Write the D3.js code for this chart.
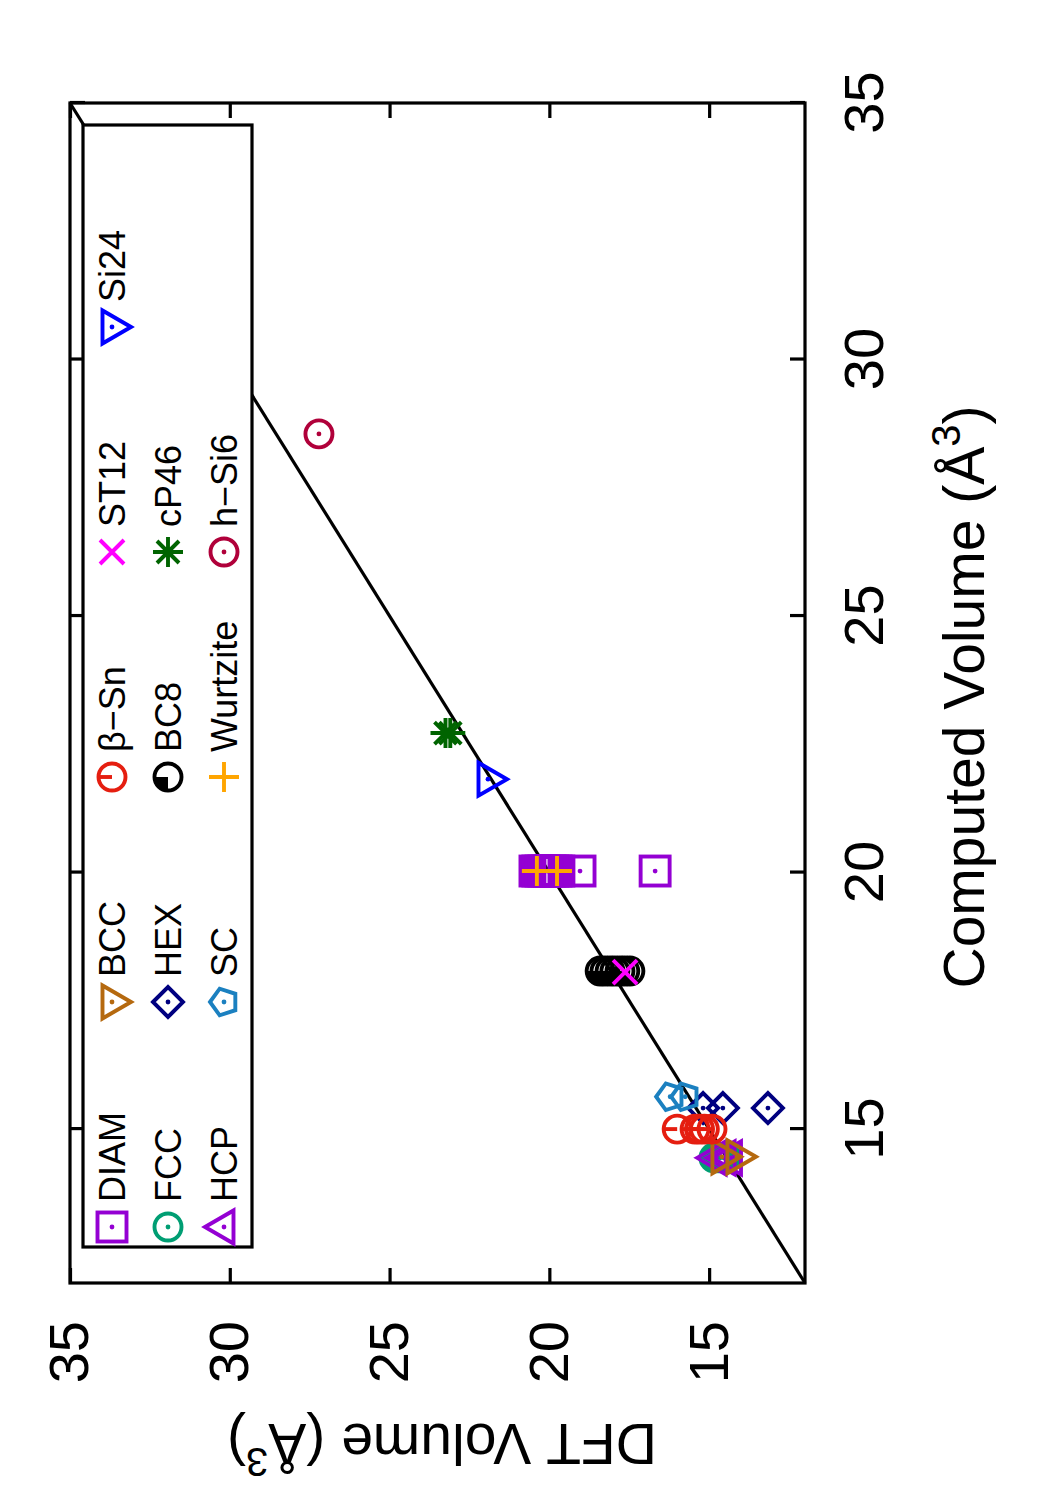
<!DOCTYPE html>
<html><head><meta charset="utf-8">
<script src="https://cdn.jsdelivr.net/npm/d3@7"></script>
<style>body{margin:0;background:#fff}</style>
</head><body>
<svg id="c" width="1050" height="1500" xmlns="http://www.w3.org/2000/svg"></svg>
<script>
// ---- data ----
const xTicks = [15, 20, 25, 30, 35];
const yTicks = [15, 20, 25, 30, 35];
const names = ["DIAM", "FCC", "HCP", "BCC", "HEX", "SC", "β−Sn", "BC8", "Wurtzite", "ST12", "cP46", "h−Si6", "Si24"];
// computed volume (x) and DFT volume (y) per structure
const xDIAM = [20.03, 20.03, 20.03, 20.03, 20.03, 20.03, 20.03, 20.03, 20.03, 20.03, 20.03];
const yDIAM = [20.45, 20.36, 20.26, 20.17, 20.07, 19.98, 19.89, 19.79, 19.70, 19.04, 16.69];
const xFCC = [14.44, 14.44, 14.44, 14.44, 14.44];
const yFCC = [14.85, 14.75, 14.65, 14.55, 14.45];
const xHCP = [14.44, 14.44, 14.44];
const yHCP = [14.78, 14.50, 14.30];
const xBCC = [14.46, 14.46];
const yBCC = [14.60, 14.13];
const xHEX = [15.41, 15.41, 15.41];
const yHEX = [15.19, 14.57, 13.16];
const xSC = [15.63, 15.63];
const ySC = [16.22, 15.75];
const xBSN = [15.00, 15.00, 15.00, 15.00, 15.00];
const yBSN = [16.00, 15.44, 15.30, 15.15, 14.91];
const xBC8 = [18.08, 18.08, 18.08, 18.08, 18.08, 18.08, 18.08];
const yBC8 = [18.41, 18.26, 18.10, 17.95, 17.79, 17.64, 17.48];
const xWURTZ = [20.03, 20.03];
const yWURTZ = [20.39, 19.76];
const xST12 = [18.06];
const yST12 = [17.63];
const xCP46 = [22.72, 22.72];
const yCP46 = [23.25, 23.10];
const xHSI6 = [28.55];
const yHSI6 = [27.21];
const xSI24 = [21.82];
const ySI24 = [21.92];

const xs = [xDIAM, xFCC, xHCP, xBCC, xHEX, xSC, xBSN, xBC8, xWURTZ, xST12, xCP46, xHSI6, xSI24];
const ys = [yDIAM, yFCC, yHCP, yBCC, yHEX, ySC, yBSN, yBC8, yWURTZ, yST12, yCP46, yHSI6, ySI24];

// ---- styles ----
const colors = ["#9400D3", "#009E73", "#9400D3", "#B5690F", "#000080", "#1B80C0", "#E51E10", "#000000", "#FFA500", "#FF00FF", "#006400", "#B0003A", "#0000FF"];
const shapes = ["box", "circle", "triUp", "triDown", "diamond", "pentagon", "circleBar", "circleQuarter", "plus", "cross", "star", "circle", "triDown"];
const FONT = "'Liberation Sans', Arial, Helvetica, sans-serif";
const SW = 3.2;   // axes / frame
const MSW = 3.9;  // markers

const svg = d3.select("#c");
svg.append("rect").attr("width", 1050).attr("height", 1500).attr("fill", "#fff");
// landscape chart (1500 x 1050) rotated 90° counter-clockwise
const g = svg.append("g").attr("transform", "translate(0,1500) rotate(-90)");

const x = d3.scaleLinear().domain([12, 35]).range([217, 1397]);
const y = d3.scaleLinear().domain([12, 35]).range([805, 70]);

function styleAxis(sel, labels) {
  sel.select(".domain").remove();
  sel.selectAll(".tick line").attr("stroke", "#000").attr("stroke-width", SW);
  if (labels) {
    sel.selectAll(".tick text").attr("font-size", 56).attr("font-family", FONT).attr("fill", "#000");
  } else {
    sel.selectAll(".tick text").remove();
  }
}
const axB = g.append("g").attr("transform", `translate(0,${y(12)})`)
  .call(d3.axisBottom(x).tickValues(xTicks).tickSizeInner(-15).tickSizeOuter(0).tickPadding(38));
styleAxis(axB, true);
const axT = g.append("g").attr("transform", `translate(0,${y(35)})`)
  .call(d3.axisTop(x).tickValues(xTicks).tickSizeInner(-15).tickSizeOuter(0));
styleAxis(axT, false);
const axL = g.append("g").attr("transform", `translate(${x(12)},0)`)
  .call(d3.axisLeft(y).tickValues(yTicks).tickSizeInner(-15).tickSizeOuter(0).tickPadding(38));
styleAxis(axL, true);
const axR = g.append("g").attr("transform", `translate(${x(35)},0)`)
  .call(d3.axisRight(y).tickValues(yTicks).tickSizeInner(-15).tickSizeOuter(0));
styleAxis(axR, false);

// diagonal y = x
g.append("line").attr("x1", x(12)).attr("y1", y(12)).attr("x2", x(35)).attr("y2", y(35))
  .attr("stroke", "#000").attr("stroke-width", SW);

function marker(sel, shape, color) {
  const r = 13.5, s = 14.5;
  const stroke = (el) => el.attr("fill", "none").attr("stroke", color).attr("stroke-width", MSW);
  const dot = () => sel.append("circle").attr("r", 2.4).attr("fill", color);
  if (shape === "box") {
    stroke(sel.append("rect").attr("x", -s).attr("y", -s).attr("width", 2 * s).attr("height", 2 * s)); dot();
  } else if (shape === "circle") {
    stroke(sel.append("circle").attr("r", r)); dot();
  } else if (shape === "triUp") {
    stroke(sel.append("path").attr("d", "M0,-19L16.5,9.5L-16.5,9.5Z")); dot();
  } else if (shape === "triDown") {
    stroke(sel.append("path").attr("d", "M0,19L16.5,-9.5L-16.5,-9.5Z")); dot();
  } else if (shape === "diamond") {
    stroke(sel.append("path").attr("d", "M0,-15L15,0L0,15L-15,0Z")); dot();
  } else if (shape === "pentagon") {
    const pts = d3.range(5).map(i => { const a = -Math.PI / 2 + i * 2 * Math.PI / 5; return [14 * Math.cos(a), 14 * Math.sin(a)]; });
    stroke(sel.append("path").attr("d", "M" + pts.join("L") + "Z")); dot();
  } else if (shape === "circleBar") {
    stroke(sel.append("circle").attr("r", r));
    stroke(sel.append("line").attr("x1", 0).attr("y1", -r).attr("x2", 0).attr("y2", 0));
  } else if (shape === "circleQuarter") {
    sel.append("path").attr("d", `M0,0L${-r},0A${r},${r} 0 0 1 0,${-r}Z`).attr("fill", color);
    stroke(sel.append("circle").attr("r", r));
  } else if (shape === "plus") {
    stroke(sel.append("path").attr("d", "M-15,0L15,0M0,-15L0,15"));
  } else if (shape === "cross") {
    stroke(sel.append("path").attr("d", "M-12,-12L12,12M-12,12L12,-12"));
  } else if (shape === "star") {
    stroke(sel.append("path").attr("d", "M-15,0L15,0M0,-15L0,15M-11,-11L11,11M-11,11L11,-11"));
  }
}

// points
names.forEach((n, i) => {
  const pts = xs[i].map((v, j) => [v, ys[i][j]]);
  g.append("g").selectAll("g").data(pts).join("g")
    .attr("transform", d => `translate(${x(d[0])},${y(d[1])})`)
    .each(function () { marker(d3.select(this), shapes[i], colors[i]); });
});

// frame
g.append("rect").attr("x", x(12)).attr("y", y(35)).attr("width", x(35) - x(12)).attr("height", y(12) - y(35))
  .attr("fill", "none").attr("stroke", "#000").attr("stroke-width", SW);

// legend
const lg = g.append("g");
lg.append("rect").attr("x", 253).attr("y", 83).attr("width", 1375 - 253).attr("height", 252 - 83)
  .attr("fill", "#fff").attr("stroke", "#000").attr("stroke-width", SW);
names.forEach((n, i) => {
  const col = Math.floor(i / 3), row = i % 3;
  const cx = 273 + col * 225, cy = 112 + row * 56;
  const m = lg.append("g").attr("transform", `translate(${cx},${cy})`);
  marker(m, shapes[i], colors[i]);
  lg.append("text").attr("x", cx + 25).attr("y", cy + 12.5).text(n)
    .attr("font-size", 36).attr("font-family", FONT).attr("fill", "#000");
});

// axis titles
const tx = g.append("text").attr("x", 803).attr("y", 984).attr("text-anchor", "middle")
  .attr("font-size", 57).attr("font-family", FONT).attr("fill", "#000");
tx.append("tspan").text("Computed Volume (Å");
tx.append("tspan").attr("dy", -24).attr("font-size", 40).text("3");
tx.append("tspan").attr("dy", 24).text(")");

const ty = g.append("text").attr("transform", "translate(76,442) rotate(-90)").attr("text-anchor", "middle")
  .attr("font-size", 57).attr("font-family", FONT).attr("fill", "#000");
ty.append("tspan").text("DFT Volume (Å");
ty.append("tspan").attr("dy", -24).attr("font-size", 40).text("3");
ty.append("tspan").attr("dy", 24).text(")");
</script>
</body></html>
